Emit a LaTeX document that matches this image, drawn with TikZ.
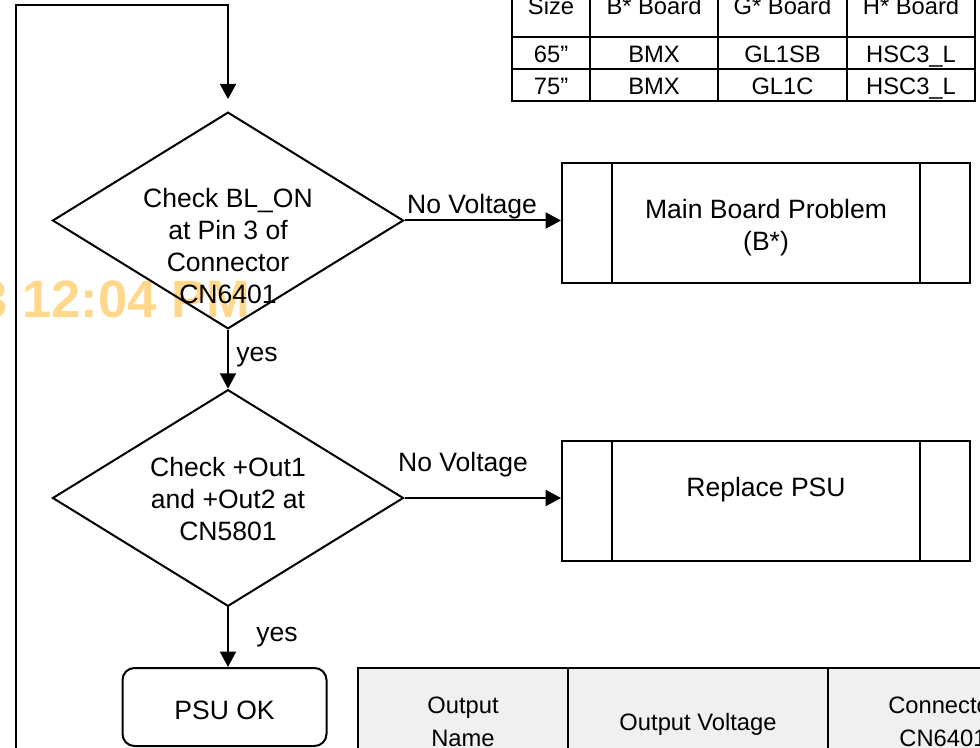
\documentclass[tikz,border=0pt]{standalone}
\usepackage{fontspec}
\setmainfont{Liberation Sans}
\usetikzlibrary{shapes.geometric,arrows.meta,calc}
\definecolor{wmark}{RGB}{255,216,140}
\definecolor{cellgray}{RGB}{240,240,240}
\begin{document}
\begin{tikzpicture}[x=0.75pt,y=-0.75pt,
  ln/.style={line width=1.5pt},
  arr/.style={line width=1.5pt,-{Triangle[length=11.5pt,width=12pt]}},
  lbl/.style={font=\fontsize{19.9}{24}\selectfont, inner sep=0, align=center},
  tbl/.style={font=\fontsize{17.8}{24.5}\selectfont, inner sep=0, align=center},
  cell/.style={tbl, anchor=base},
  dia/.style={diamond, draw, line width=1.5pt, minimum width=263.25pt, minimum height=162.5pt, inner sep=0},
  proc/.style={rectangle, draw, line width=1.5pt, minimum width=306pt, minimum height=90pt},
  term/.style={rectangle, rounded corners=9pt, draw, line width=1.5pt, minimum width=153pt, minimum height=58.5pt}]
\useasboundingbox (0,0) rectangle (980,748);
\clip (0,0) rectangle (980,748);

% watermark
\node[anchor=base west, inner sep=0, text=wmark, font=\bfseries\fontsize{39.45}{40}\selectfont] (wm) at (-22,317) {3 12:04 PM};

% top table
\draw[ln] (512,-30) -- (512,101) -- (975,101) -- (975,-30);
\draw[ln] (512,37) -- (975,37);
\draw[ln] (512,69) -- (975,69);
\foreach \cx in {590,718,847} \draw[ln] (\cx,-30) -- (\cx,101);
\node[cell] (h1) at (551,15) {Size};
\node[cell] (h2) at (654,15) {B* Board};
\node[cell] (h3) at (782.5,15) {G* Board};
\node[cell] (h4) at (911,15) {H* Board};
\node[cell] (r11) at (551,63) {65”};
\node[cell] (r12) at (654,63) {BMX};
\node[cell] (r13) at (782.5,63) {GL1SB};
\node[cell] (r14) at (911,63) {HSC3\_L};
\node[cell] (r21) at (551,95) {75”};
\node[cell] (r22) at (654,95) {BMX};
\node[cell] (r23) at (782.5,95) {GL1C};
\node[cell] (r24) at (911,95) {HSC3\_L};

% bottom table
\fill[cellgray] (358,668) rectangle (990,760);
\draw[ln] (358,760) -- (358,668) -- (990,668);
\draw[ln] (568,668) -- (568,760);
\draw[ln] (828,668) -- (828,760);
\node[tbl] (c1) at (463,722) {Output\\Name};
\node[tbl] (c2) at (698,724) {Output Voltage};
\node[tbl] (c3) at (943,722) {Connector\\CN6401};

% flowchart
\node[dia] (d1) at (228,220.5) {};
\node[lbl] (d1t) at (228,246) {Check BL\_ON\\at Pin 3 of\\Connector\\CN6401};
\node[dia] (d2) at (228,498) {};
\node[lbl] (d2t) at (228,499) {Check +Out1\\and +Out2 at\\CN5801};

\node[proc] (b1) at (766,223) {};
\draw[ln] ($(b1.north west)+(51,0)$) -- ($(b1.south west)+(51,0)$);
\draw[ln] ($(b1.north east)+(-51,0)$) -- ($(b1.south east)+(-51,0)$);
\node[lbl] (b1t) at (766,228) {Main Board Problem\\(B*)};

\node[proc] (b2) at (766,501) {};
\draw[ln] ($(b2.north west)+(51,0)$) -- ($(b2.south west)+(51,0)$);
\draw[ln] ($(b2.north east)+(-51,0)$) -- ($(b2.south east)+(-51,0)$);
\node[lbl] (b2t) at (766,490) {Replace PSU};

\node[term] (ok) at (224.5,707) {};
\node[lbl] (okt) at (224.5,710) {PSU OK};

% connectors
\coordinate (lb) at (16,760);
\coordinate (lt) at (16,5);
\draw[arr, shorten >=9pt] (lb) -- (lt) -- (lt -| d1.north) -- (d1.north);
\draw[arr] (d1.east) -- (d1.east -| b1.west);
\node[lbl] (nv1) at (472,207) {No Voltage};
\draw[arr] (d1.south) -- (d2.north);
\node[lbl, anchor=west] (y1) at (236,357) {yes};
\draw[arr] (d2.east) -- (d2.east -| b2.west);
\node[lbl] (nv2) at (463,465) {No Voltage};
\draw[arr] (d2.south) -- (d2.south |- ok.north);
\node[lbl, anchor=west] (y2) at (256,637) {yes};
\end{tikzpicture}
\end{document}
